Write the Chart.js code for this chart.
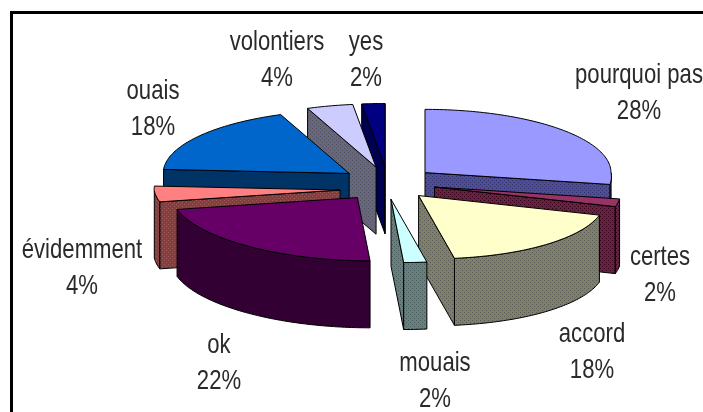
<!DOCTYPE html>
<html>
<head>
<meta charset="utf-8">
<style>
    body { margin: 0; background: #fff; }
    canvas { display: block; filter: blur(0.4px); }
</style>
<script src="https://cdn.jsdelivr.net/npm/chart.js@4/dist/chart.umd.min.js"></script>
</head>
<body>
<canvas id="pie" width="703" height="412"></canvas>
<script>
var categories = ['pourquoi pas', 'certes', 'accord', 'mouais', 'ok', 'évidemment', 'ouais', 'volontiers', 'yes'];
var percents = [28, 2, 18, 2, 22, 4, 18, 4, 2];

var topColors = ['#9999ff', '#993366', '#ffffcc', '#ccffff', '#660066', '#ff8080', '#0066cc', '#ccccff', '#000080'];
var wallColors = ['#4d4d99', '#66223f', '#808066', '#668080', '#330033', '#804040', '#003366', '#666680', '#000050'];
var wallDots = ['#33336a', '#33001a', '#5a5a5a', '#4a5a5a', null, '#a05a5a', null, '#55555f', null];

// where each label goes, centre of the text block
var labelX = [639, 660, 592, 435, 219, 82, 153, 277, 366];
var labelY = [93, 275, 352, 381, 363, 268, 109, 60, 60];

// back slices first, the way the picture stacks them
var drawOrder = [8, 7, 6, 0, 5, 1, 2, 4, 3];

// the left slices sit a little lower in the reference
var sliceDrop = [0, 0, 0, 0, 2, 6, 0, 0, 0];

var SQUASH = 0.34;
var DEPTH = 67;
var SHEAR = 0.2;
var TEXT_STRETCH = 0.79;

function wallFill(ctx, i) {
    if (!wallDots[i])
        return wallColors[i];
    var tile = document.createElement('canvas');
    tile.width = 4;
    tile.height = 4;
    var t = tile.getContext('2d');
    t.fillStyle = wallColors[i];
    t.fillRect(0, 0, 4, 4);
    t.fillStyle = wallDots[i];
    t.fillRect(0, 0, 1, 1);
    t.fillRect(2, 2, 1, 1);
    return ctx.createPattern(tile, 'repeat');
}

function drawPoly(ctx, points, fill) {
    ctx.beginPath();
    points.forEach(function (p, n) {
        if (n == 0) ctx.moveTo(p.x, p.y);
        else ctx.lineTo(p.x, p.y);
    });
    ctx.closePath();
    ctx.fillStyle = fill;
    ctx.fill();
    ctx.stroke();
}

function drawSlice(ctx, arc, i) {
    var p = arc.getProps(['x', 'y', 'startAngle', 'endAngle', 'outerRadius'], true);
    var mid = (p.startAngle + p.endAngle) / 2;
    var off = arc.options.offset;
    var ax = p.x + off * Math.cos(mid);
    var ay = p.y + off * Math.sin(mid) * SQUASH + sliceDrop[i];

    function rimPoint(a) {
        var dy = p.outerRadius * Math.sin(a) * SQUASH;
        return {x: ax + p.outerRadius * Math.cos(a) + SHEAR * Math.max(dy, 0), y: ay + dy};
    }
    function down(q) {
        return {x: q.x, y: q.y + DEPTH};
    }

    var apex = {x: ax, y: ay};
    var steps = Math.max(Math.ceil((p.endAngle - p.startAngle) / 0.02), 1);
    var rim = [];
    var front = [];
    for (var s = 0; s <= steps; s++) {
        var a = p.startAngle + (p.endAngle - p.startAngle) * s / steps;
        var q = rimPoint(a);
        rim.push(q);
        if (Math.sin(a) >= 0) front.push(q);
    }
    var first = rim[0];
    var last = rim[rim.length - 1];
    var fill = wallFill(ctx, i);

    // cut faces only show when they run leftwards on screen
    if (first.x < apex.x)
        drawPoly(ctx, [apex, first, down(first), down(apex)], fill);
    if (last.x > apex.x)
        drawPoly(ctx, [last, apex, down(apex), down(last)], fill);
    if (front.length > 1)
        drawPoly(ctx, front.concat(front.slice().reverse().map(down)), fill);

    drawPoly(ctx, [apex].concat(rim), topColors[i]);
}

function drawLabel(ctx, text, x, y) {
    ctx.save();
    ctx.translate(x, y);
    ctx.scale(TEXT_STRETCH, 1);
    ctx.fillText(text, 0, 0);
    ctx.restore();
}

var pie3d = {
    id: 'pie3d',
    beforeDraw: function (chart) {
        var ctx = chart.ctx;
        ctx.save();
        ctx.fillStyle = '#fff';
        ctx.fillRect(0, 0, chart.width, chart.height);
        // frame runs off the right and bottom of the picture
        ctx.strokeStyle = '#000';
        ctx.lineWidth = 3;
        ctx.strokeRect(11.5, 12.5, chart.width + 20, chart.height + 20);
        ctx.restore();
    },
    beforeDatasetsDraw: function (chart) {
        var ctx = chart.ctx;
        var arcs = chart.getDatasetMeta(0).data;
        ctx.save();
        ctx.strokeStyle = '#000';
        ctx.lineWidth = 1;
        ctx.lineJoin = 'round';
        drawOrder.forEach(function (i) {
            drawSlice(ctx, arcs[i], i);
        });
        ctx.restore();
        return false;
    },
    // afterDatasetsDraw does not fire once the datasets are cancelled above
    afterDraw: function (chart) {
        var ctx = chart.ctx;
        ctx.save();
        ctx.fillStyle = '#2a2a2a';
        ctx.font = '28px "Liberation Sans"';
        ctx.textAlign = 'center';
        ctx.textBaseline = 'middle';
        categories.forEach(function (name, i) {
            drawLabel(ctx, name, labelX[i], labelY[i] - 18);
            drawLabel(ctx, percents[i] + '%', labelX[i], labelY[i] + 18);
        });
        ctx.restore();
    }
};

new Chart(document.getElementById('pie'), {
    type: 'pie',
    plugins: [pie3d],
    data: {
        labels: categories,
        datasets: [{
            data: percents,
            backgroundColor: topColors,
            offset: 48,
            borderWidth: 0
        }]
    },
    options: {
        responsive: false,
        animation: false,
        radius: 186,
        layout: {padding: {left: 73, bottom: 46}},
        plugins: {legend: {display: false}, tooltip: {enabled: false}}
    }
});
</script>
</body>
</html>
